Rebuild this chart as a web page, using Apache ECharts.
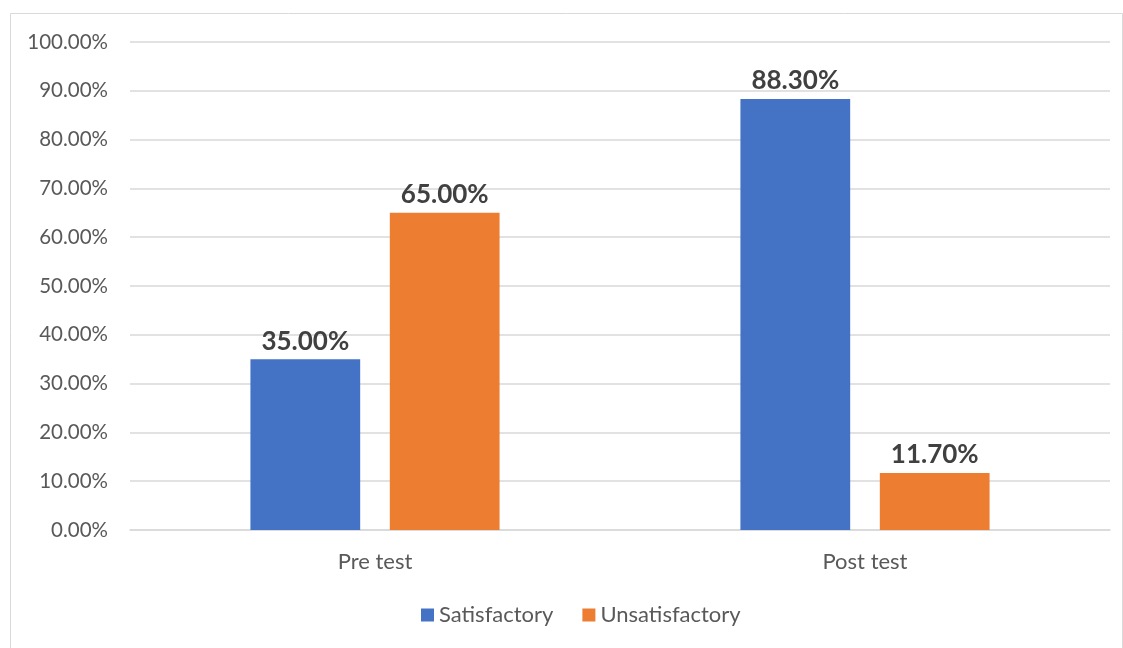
<!DOCTYPE html>
<html>
<head>
<meta charset="utf-8">
<script src="https://cdn.jsdelivr.net/npm/echarts@6/dist/echarts.min.js"></script>
<style>
  html, body { margin: 0; padding: 0; background: #fff; }
  #myChart { width: 1123px; height: 648px; }
</style>
</head>
<body>
<div id="myChart"></div>
<script>
// data
var categories = ["Pre test", "Post test"];
var satisfactory = [35.0, 88.3];
var unsatisfactory = [65.0, 11.7];

var fontName = "Lato, 'Open Sans', sans-serif";

var myChart = echarts.init(document.getElementById("myChart"));

var labelStyle = {
  show: true,
  position: "top",
  distance: 5,
  fontFamily: fontName,
  fontWeight: "bold",
  fontSize: 26,
  color: "#404040",
  formatter: function (p) { return p.value.toFixed(2) + "%"; }
};

myChart.setOption({
  animation: false,
  graphic: [
    {
      type: "rect",
      left: 8,
      top: 11,
      shape: { width: 1112, height: 640 },
      style: { fill: "none", stroke: "#d9d9d9", lineWidth: 1 }
    }
  ],
  grid: { left: 130, right: 13, top: 42, bottom: 118 },
  legend: {
    bottom: 17,
    left: 416,
    itemWidth: 13,
    itemHeight: 13,
    itemGap: 29,
    icon: "rect",
    textStyle: { fontFamily: fontName, fontSize: 22, color: "#595959" },
    data: ["Satisfactory", "Unsatisfactory"]
  },
  xAxis: {
    type: "category",
    data: categories,
    axisLine: { lineStyle: { color: "#d9d9d9", width: 1.5 } },
    axisTick: { show: false },
    axisLabel: { fontFamily: fontName, fontSize: 22, color: "#595959", margin: 21 }
  },
  yAxis: {
    type: "value",
    min: 0,
    max: 100,
    interval: 10,
    axisLine: { show: false },
    axisTick: { show: false },
    splitLine: { lineStyle: { color: "#d9d9d9", width: 1.5 } },
    axisLabel: {
      fontFamily: fontName, fontSize: 20.5, color: "#595959", margin: 22,
      formatter: function (v) { return v.toFixed(2) + "%"; }
    }
  },
  series: [
    {
      name: "Satisfactory",
      type: "bar",
      data: satisfactory,
      barWidth: "22.4%",
      barGap: "27%",
      itemStyle: { color: "#4472c4" },
      label: labelStyle
    },
    {
      name: "Unsatisfactory",
      type: "bar",
      data: unsatisfactory,
      barWidth: "22.4%",
      itemStyle: { color: "#ed7d31" },
      label: labelStyle
    }
  ]
});
</script>
</body>
</html>
